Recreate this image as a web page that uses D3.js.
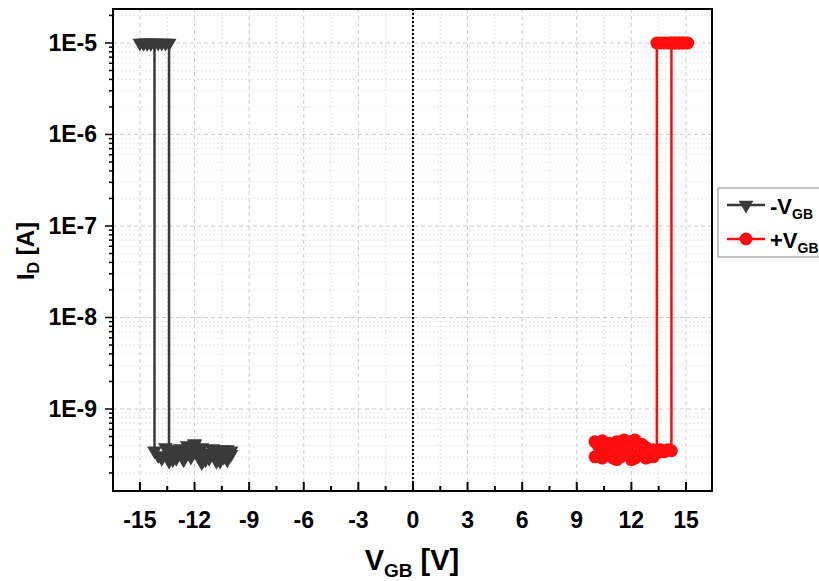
<!DOCTYPE html>
<html><head><meta charset="utf-8">
<script src="https://cdn.jsdelivr.net/npm/d3@7"></script>
<style>body{margin:0;background:#fff}svg{display:block}text{font-family:"Liberation Sans",Arial,sans-serif;font-weight:bold}</style>
</head><body>
<svg id="c" width="819" height="581"></svg>
<script>
// ---- data ----
const xTicks = [-15,-12,-9,-6,-3,0,3,6,9,12,15];
const yTicks = [1e-5,1e-6,1e-7,1e-8,1e-9];
const yTickLabels = ["1E-5","1E-6","1E-7","1E-8","1E-9"];
// -VGB sweep: -10 -> -15 -> -10
const negX = [-10.0,-10.2,-10.4,-10.6,-10.8,-11.0,-11.2,-11.4,-11.6,-11.8,-12.0,-12.2,-12.4,-12.6,-12.8,-13.0,-13.2,-13.4,-13.6,-13.8,-14.0,-14.2,
              -14.2,-14.4,-14.6,-14.8,-15.0,-14.8,-14.6,-14.4,-14.2,-14.0,-13.8,-13.6,-13.4,
              -13.4,-13.2,-13.0,-12.8,-12.6,-12.4,-12.2,-12.0,-11.8,-11.6,-11.4,-11.2,-11.0,-10.8,-10.6,-10.4,-10.2,-10.0];
const negY = [3.5e-10,2.8e-10,3.6e-10,2.7e-10,3.2e-10,3.7e-10,2.9e-10,3.3e-10,2.6e-10,3.6e-10,4.1e-10,3.0e-10,4.0e-10,2.8e-10,3.4e-10,2.9e-10,3.6e-10,2.7e-10,3.8e-10,2.9e-10,3.1e-10,3.5e-10,
              1e-5,1e-5,1e-5,1e-5,1e-5,1e-5,1e-5,1e-5,1e-5,1e-5,1e-5,1e-5,1e-5,
              3.6e-10,2.8e-10,3.2e-10,3.7e-10,2.9e-10,3.5e-10,3.8e-10,4.2e-10,3.1e-10,3.8e-10,2.8e-10,3.3e-10,3.6e-10,2.7e-10,3.4e-10,3.0e-10,3.6e-10,3.2e-10];
// +VGB sweep: 10 -> 15 -> 10
const posX = [10.0,10.2,10.4,10.6,10.8,11.0,11.2,11.4,11.6,11.8,12.0,12.2,12.4,12.6,12.8,13.0,13.2,13.4,13.6,13.8,14.0,14.2,
              14.2,14.4,14.6,14.8,15.0,15.1,14.8,14.6,14.4,14.2,14.0,13.8,13.6,13.4,
              13.4,13.2,13.0,12.8,12.6,12.4,12.2,12.0,11.8,11.6,11.4,11.2,11.0,10.8,10.6,10.4,10.2,10.0];
const posY = [4.4e-10,3.1e-10,4.5e-10,3.3e-10,4.2e-10,2.9e-10,4.4e-10,3.0e-10,4.6e-10,3.2e-10,4.4e-10,2.9e-10,4.2e-10,3.1e-10,3.8e-10,3.0e-10,3.6e-10,3.3e-10,3.6e-10,3.4e-10,3.6e-10,3.5e-10,
              1e-5,1e-5,1e-5,1e-5,1e-5,1e-5,1e-5,1e-5,1e-5,1e-5,1e-5,1e-5,1e-5,1e-5,
              3.3e-10,3.0e-10,3.5e-10,2.9e-10,4.1e-10,3.2e-10,4.6e-10,2.8e-10,3.9e-10,3.2e-10,4.3e-10,2.8e-10,3.6e-10,3.1e-10,4.2e-10,2.9e-10,3.9e-10,3.0e-10];
const seriesNames = ["-V", "+V"];
const seriesSub = ["GB", "GB"];
const seriesColors = ["#3a3a3a", "#ff0d0d"];

// ---- layout ----
const svg = d3.select("#c");
const L = 113, R = 712, T = 9, B = 491;
const x = d3.scaleLinear().domain([-16.48, 16.43]).range([L, R]);
const y = d3.scaleLog().domain([1.27e-10, 2.35e-5]).range([B, T]);

// grid
const g = svg.append("g");
const xMinor = d3.range(-16.5, 16.6, 1.5).filter(v => v > -16.48 && v < 16.43);
g.selectAll(".gx").data(xMinor).join("line")
  .attr("x1", d => x(d)).attr("x2", d => x(d)).attr("y1", T).attr("y2", B)
  .attr("stroke", d => (Math.round(d*2) % 6 === 0) ? "#cfcfcf" : "#e2e2e2")
  .attr("stroke-width", 1).attr("stroke-dasharray", d => (Math.round(d*2) % 6 === 0) ? "4,3" : "2,2");
const yMinor = [];
[-10,-9,-8,-7,-6,-5].forEach(e => { for (let k = 1; k <= 9; k++) { const v = k * Math.pow(10, e); if (v > 1.27e-10 && v < 2.35e-5) yMinor.push({v, major: k === 1}); } });
g.selectAll(".gy").data(yMinor).join("line")
  .attr("x1", L).attr("x2", R).attr("y1", d => y(d.v)).attr("y2", d => y(d.v))
  .attr("stroke", d => d.major ? "#cfcfcf" : "#e6e6e6")
  .attr("stroke-width", 1).attr("stroke-dasharray", d => d.major ? "4,3" : "2,2");

// zero dotted line
svg.append("line").attr("x1", x(0)).attr("x2", x(0)).attr("y1", T).attr("y2", B)
  .attr("stroke", "#000").attr("stroke-width", 2).attr("stroke-dasharray", "2,2");

// series
const sets = [
  {xs: negX, ys: negY, color: seriesColors[0], sym: d3.symbolTriangle, rot: 180, size: 95},
  {xs: posX, ys: posY, color: seriesColors[1], sym: d3.symbolCircle, rot: 0, size: 130}
];
sets.forEach(s => {
  const pts = s.xs.map((v, i) => [v, s.ys[i]]);
  svg.append("path").attr("d", d3.line().x(d => x(d[0])).y(d => y(d[1]))(pts))
    .attr("fill", "none").attr("stroke", s.color).attr("stroke-width", 2.5);
  svg.append("g").selectAll("path").data(pts).join("path")
    .attr("d", d3.symbol().type(s.sym).size(s.size))
    .attr("transform", d => `translate(${x(d[0])},${y(d[1])}) rotate(${s.rot})`)
    .attr("fill", s.color);
});

// frame
svg.append("rect").attr("x", L).attr("y", T).attr("width", R - L).attr("height", B - T)
  .attr("fill", "none").attr("stroke", "#000").attr("stroke-width", 2);

// x axis ticks (inward)
svg.append("g").selectAll("line").data(xTicks).join("line")
  .attr("x1", d => x(d)).attr("x2", d => x(d)).attr("y1", B).attr("y2", B - 9)
  .attr("stroke", "#000").attr("stroke-width", 2);
svg.append("g").selectAll("line").data(xTicks.slice(0, -1).map(d => d + 1.5)).join("line")
  .attr("x1", d => x(d)).attr("x2", d => x(d)).attr("y1", B).attr("y2", B - 5)
  .attr("stroke", "#000").attr("stroke-width", 2);
svg.append("g").selectAll("text").data(xTicks).join("text")
  .attr("x", d => x(d)).attr("y", 528).attr("text-anchor", "middle")
  .attr("font-size", 23).text(d => d);

// y axis ticks (outward)
svg.append("g").selectAll("line").data(yMinor).join("line")
  .attr("x1", L).attr("x2", d => d.major ? L - 8 : L - 4)
  .attr("y1", d => y(d.v)).attr("y2", d => y(d.v))
  .attr("stroke", "#000").attr("stroke-width", 1.5);
svg.append("g").selectAll("text").data(yTicks).join("text")
  .attr("x", 97).attr("y", d => y(d) + 8).attr("text-anchor", "end")
  .attr("font-size", 23).text((d, i) => yTickLabels[i]);

// axis titles
const xt = svg.append("text").attr("x", 412).attr("y", 570).attr("text-anchor", "middle").attr("font-size", 29);
xt.append("tspan").text("V");
xt.append("tspan").attr("font-size", 19).attr("dy", 7).text("GB");
xt.append("tspan").attr("dy", -7).text(" [V]");
const yt = svg.append("text").attr("transform", "translate(34,251) rotate(-90)").attr("text-anchor", "middle").attr("font-size", 24);
yt.append("tspan").text("I");
yt.append("tspan").attr("font-size", 16).attr("dy", 5).text("D");
yt.append("tspan").attr("dy", -5).text(" [A]");

// legend
svg.append("rect").attr("x", 718).attr("y", 188).attr("width", 120).attr("height", 69)
  .attr("fill", "#fff").attr("stroke", "#888").attr("stroke-width", 1);
sets.forEach((s, i) => {
  const ly = 205 + i * 34;
  svg.append("line").attr("x1", 727).attr("x2", 765).attr("y1", ly).attr("y2", ly)
    .attr("stroke", s.color).attr("stroke-width", 2.5);
  svg.append("path").attr("d", d3.symbol().type(s.sym).size(s.size)())
    .attr("transform", `translate(746,${ly}) rotate(${s.rot})`).attr("fill", s.color);
  const t = svg.append("text").attr("x", 770).attr("y", ly + 9).attr("font-size", 22);
  t.append("tspan").text(seriesNames[i]);
  t.append("tspan").attr("font-size", 14).attr("dy", 5).text(seriesSub[i]);
});
</script>
</body></html>
